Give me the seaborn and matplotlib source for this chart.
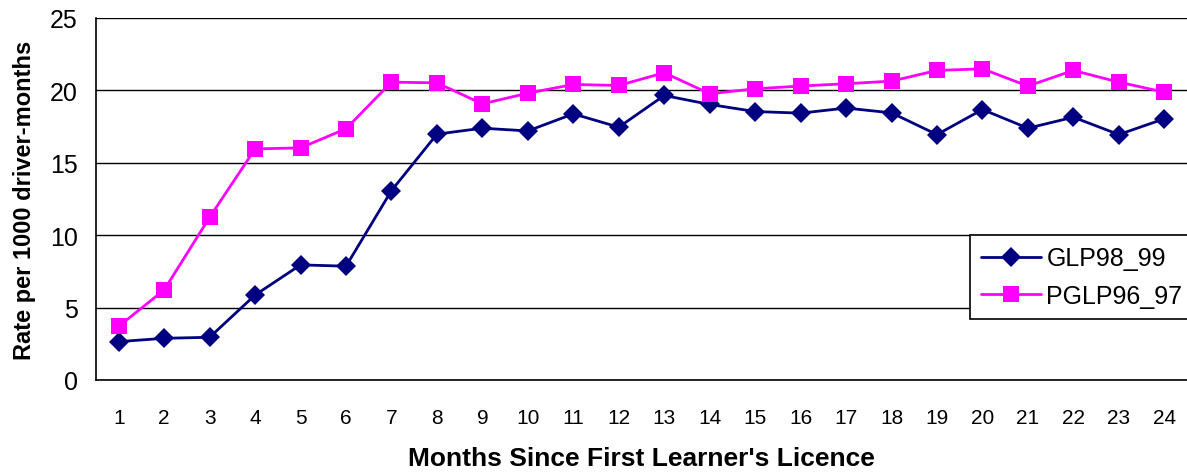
import matplotlib
matplotlib.use("Agg")
import matplotlib.pyplot as plt
import seaborn as sns
import pandas as pd
import numpy as np

months = list(range(1, 25))
glp98_99 = [2.65, 2.88, 2.95, 5.87, 7.95, 7.86, 13.08, 16.98, 17.39, 17.2, 18.38, 17.46,
            19.65, 19.03, 18.54, 18.43, 18.78, 18.45, 16.95, 18.68, 17.39, 18.15, 16.95, 18.04]
pglp96_97 = [3.71, 6.22, 11.24, 15.96, 16.03, 17.35, 20.57, 20.52, 19.07, 19.81, 20.41, 20.34,
             21.22, 19.77, 20.11, 20.3, 20.46, 20.64, 21.38, 21.49, 20.3, 21.38, 20.57, 19.88]
series_names = ["GLP98_99", "PGLP96_97"]
y_ticks = [0, 5, 10, 15, 20, 25]

sns.set_style("white")
plt.rcParams['font.family'] = ['Liberation Sans', 'DejaVu Sans']
plt.rcParams['text.color'] = 'black'
plt.rcParams['xtick.color'] = 'black'
plt.rcParams['ytick.color'] = 'black'
plt.rcParams['axes.labelcolor'] = 'black'

df = pd.DataFrame({
    "month": months * 2,
    "rate": glp98_99 + pglp96_97,
    "series": [series_names[0]] * len(months) + [series_names[1]] * len(months),
})

fig = plt.figure(figsize=(11.87, 4.77), dpi=100)
ax = fig.add_axes([96/1187, 1 - 381/477, 1 - 96/1187, (381 - 19)/477])

sns.lineplot(data=df, x="month", y="rate", hue="series", style="series",
             palette={"GLP98_99": "#000080", "PGLP96_97": "#FF00FF"},
             markers={"GLP98_99": "D", "PGLP96_97": "s"},
             dashes=False, markersize=11, linewidth=2, markeredgewidth=0,
             ax=ax, legend=True)
for ln in ax.lines:
    if ln.get_marker() == "D":
        ln.set_markersize(10)

ax.set_xlim(0.5, 24.5)
ax.set_ylim(0, 25)
ax.set_yticks(y_ticks)
ax.set_yticklabels([str(v) for v in y_ticks], fontsize=18)
ax.set_xticks(months)
ax.set_xticklabels([str(m) for m in months], fontsize=15)
ax.set_xticks(np.arange(0.5, 25, 1), minor=True)
ax.tick_params(axis="x", which="major", length=0, pad=20)
ax.tick_params(axis="x", which="minor", length=6, width=1, color="black", direction="out")
ax.tick_params(axis="y", which="major", length=6, width=1, color="black", direction="out", pad=7)
ax.yaxis.grid(True, color="black", linewidth=1)
ax.set_axisbelow(True)

for s in ["top", "right"]:
    ax.spines[s].set_visible(False)
for s in ["left", "bottom"]:
    ax.spines[s].set_color("black")
    ax.spines[s].set_linewidth(1.2)

ax.set_xlabel("Months Since First Learner's Licence", fontsize=19, fontweight="bold", labelpad=14)
ax.set_ylabel("Rate per 1000 driver-months", fontsize=17, fontweight="bold", labelpad=10)

leg = ax.legend(loc="upper left", bbox_to_anchor=((970 - 96) / 1091, (381 - 236) / 362),
                fontsize=18, frameon=True, fancybox=False, edgecolor="black",
                framealpha=1, handlelength=2.4, borderpad=0.45, labelspacing=0.55,
                handletextpad=0.2, borderaxespad=0)
leg.get_frame().set_linewidth(1.2)
for h in leg.legend_handles:
    h.set_markeredgewidth(0)

fig.savefig("out.png", dpi=100)
